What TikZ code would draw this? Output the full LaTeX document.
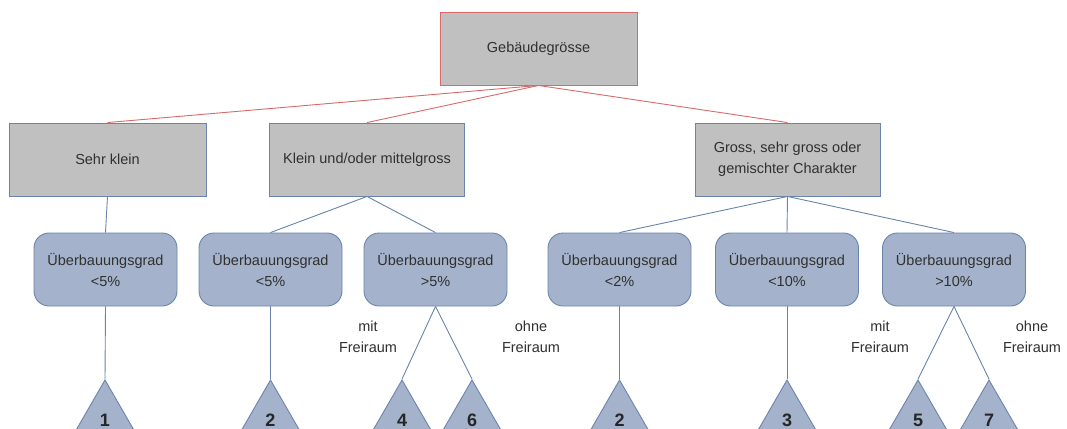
\documentclass[tikz,border=0pt]{standalone}
\usepackage{fontspec}
\setmainfont{Liberation Sans}
\usetikzlibrary{shapes.geometric}
\definecolor{boxgray}{HTML}{C0C0C0}
\definecolor{redline}{HTML}{D86A6A}
\definecolor{blueline}{HTML}{6A84AE}
\definecolor{bluefill}{HTML}{A4B3CB}
\definecolor{txt}{HTML}{303030}
\tikzset{
  topbox/.style={draw=redline, fill=boxgray, line width=0.9pt, minimum width=197pt, minimum height=73pt, align=center, text=txt, font=\fontsize{14.5}{20}\selectfont, inner sep=2pt},
  midbox/.style={draw=blueline, fill=boxgray, line width=0.9pt, minimum height=73pt, align=center, text=txt, font=\fontsize{14.5}{21}\selectfont, inner sep=2pt},
  condbox/.style={draw=blueline, fill=bluefill, line width=0.9pt, rounded corners=15pt, minimum width=143pt, minimum height=73pt, align=center, text=txt, font=\fontsize{14.5}{21}\selectfont, text depth=0pt},
  leaf/.style={draw=blueline, fill=bluefill, line width=0.9pt, regular polygon, regular polygon sides=3, minimum size=80pt, inner sep=0pt, font=\fontsize{18}{20}\selectfont\bfseries, text=black!85},
  redconn/.style={draw=redline, line width=0.9pt},
  blueconn/.style={draw=blueline, line width=0.9pt},
  branchlabel/.style={align=center, text=txt, font=\fontsize{14.5}{21}\selectfont}
}
\begin{document}
\begin{tikzpicture}[x=1pt,y=-1pt]
\clip (0,0) rectangle (1067,428);
\fill[white] (0,0) rectangle (1067,428);
% top
\node[topbox] (top) at (538.5,48.5) {Gebäudegrösse};
% second level
\node[midbox, minimum width=197pt] (sk) at (107.5,159.5) {Sehr klein};
\node[midbox, minimum width=195pt] (km) at (367,159.5) {Klein und/oder mittelgross};
\node[midbox, minimum width=185pt] (gs) at (787.5,159.5) {Gross, sehr gross oder\\gemischter Charakter};
% third level
\node[condbox] (c1) at (105.5,269.5) {Überbauungsgrad\\<5\%};
\node[condbox] (c2) at (270.5,269.5) {Überbauungsgrad\\<5\%};
\node[condbox] (c3) at (435.5,269.5) {Überbauungsgrad\\>5\%};
\node[condbox] (c4) at (619.5,269.5) {Überbauungsgrad\\<2\%};
\node[condbox] (c5) at (787,269.5) {Überbauungsgrad\\<10\%};
\node[condbox] (c6) at (954,269.5) {Überbauungsgrad\\>10\%};
% leaves
\node[leaf] (l1) at (105,420) {1};
\node[leaf] (l2) at (270.5,420) {2};
\node[leaf] (l4) at (402,420) {4};
\node[leaf] (l6) at (472,420) {6};
\node[leaf] (l2b) at (619.5,420) {2};
\node[leaf] (l3) at (787,420) {3};
\node[leaf] (l5) at (918,420) {5};
\node[leaf] (l7) at (989,420) {7};
% branch labels
\node[branchlabel] (m1) at (368,337) {mit\\Freiraum};
\node[branchlabel] (o1) at (531,337) {ohne\\Freiraum};
\node[branchlabel] (m2) at (880,337) {mit\\Freiraum};
\node[branchlabel] (o2) at (1032,337) {ohne\\Freiraum};
% connectors
\draw[redconn] (top.south) -- (sk.north);
\draw[redconn] (top.south) -- (km.north);
\draw[redconn] (top.south) -- (gs.north);
\draw[blueconn] (sk.south) -- (c1.north);
\draw[blueconn] (km.south) -- (c2.north);
\draw[blueconn] (km.south) -- (c3.north);
\draw[blueconn] (gs.south) -- (c4.north);
\draw[blueconn] (gs.south) -- (c5.north);
\draw[blueconn] (gs.south) -- (c6.north);
\draw[blueconn] (c1.south) -- (l1.corner 1);
\draw[blueconn] (c2.south) -- (l2.corner 1);
\draw[blueconn] (c3.south) -- (l4.corner 1);
\draw[blueconn] (c3.south) -- (l6.corner 1);
\draw[blueconn] (c4.south) -- (l2b.corner 1);
\draw[blueconn] (c5.south) -- (l3.corner 1);
\draw[blueconn] (c6.south) -- (l5.corner 1);
\draw[blueconn] (c6.south) -- (l7.corner 1);
\end{tikzpicture}
\end{document}
